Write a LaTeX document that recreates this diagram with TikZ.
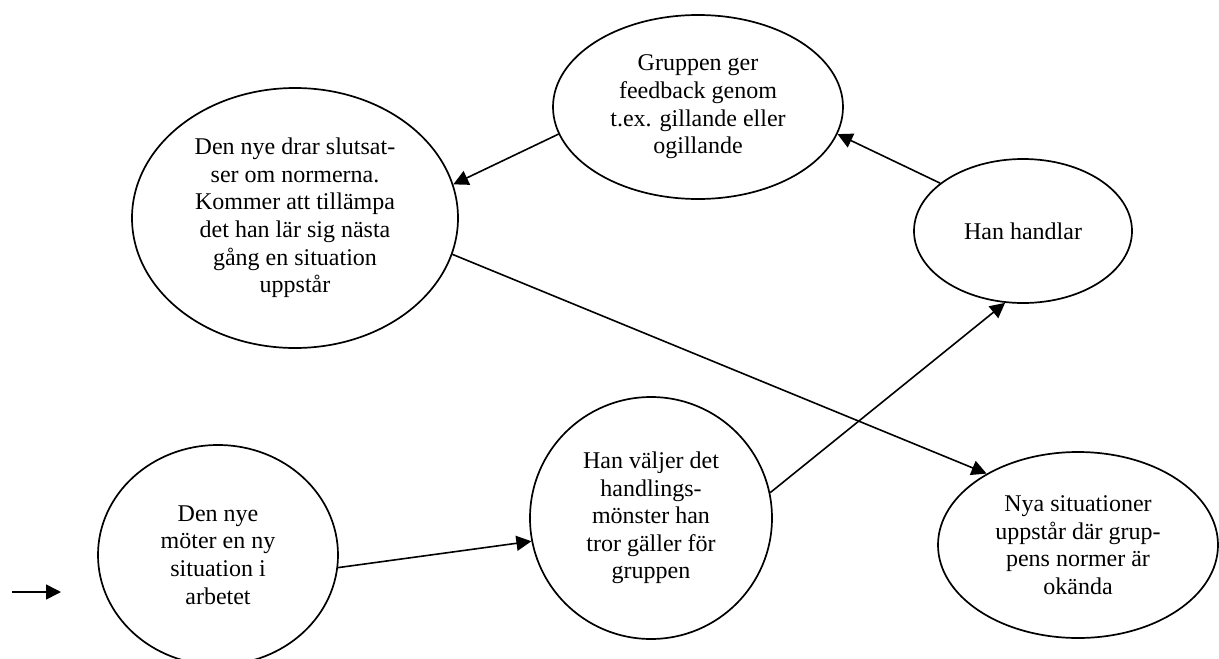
\documentclass[tikz,border=0pt]{standalone}
\usepackage{fontspec}
\setmainfont{Liberation Serif}
\usetikzlibrary{shapes.geometric,arrows.meta}
\begin{document}
\begin{tikzpicture}[x=1pt,y=-1pt,
    bubble/.style={draw, ellipse, line width=1.7pt, inner sep=0pt, align=center,
      font=\fontsize{24}{27.6}\selectfont},
    flow/.style={line width=1.6pt, -{Triangle[length=15pt,width=15pt]}}]
\useasboundingbox (0,0) rectangle (1219,659);
% the cycle
\node[bubble, minimum width=240pt, minimum height=220pt] (mote) at (218,555)
  {Den nye\\möter en ny\\situation i\\arbetet};
\node[bubble, minimum width=242pt, minimum height=242pt] (valjer) at (651,518)
  {Han väljer det\\handlings-\\mönster han\\tror gäller för\\gruppen};
\node[bubble, minimum width=218pt, minimum height=144pt] (handlar) at (1023,231)
  {Han handlar};
\node[bubble, minimum width=290pt, minimum height=184pt] (feedback) at (698,107)
  {Gruppen ger\\feedback genom\\t.ex. gillande eller\\ogillande};
\node[bubble, minimum width=326pt, minimum height=260pt] (slutsats) at (295,218)
  {Den nye drar slutsat-\\ser om normerna.\\Kommer att tillämpa\\det han lär sig nästa\\gång en situation\\uppstår};
\node[bubble, minimum width=280pt, minimum height=186pt] (nya) at (1078,545)
  {Nya situationer\\uppstår där grup-\\pens normer är\\okända};
% entry arrow
\coordinate (in1) at (12,592);
\coordinate (in2) at (61,592);
\draw[flow] (in1) -- (in2);
\draw[flow] (mote.-6) -- (valjer.-169);
\draw[flow] (valjer.12) -- (handlar.256);
\draw[flow] (handlar.150) -- (feedback.-11);
\draw[flow] (feedback.191) -- (slutsats.12);
\draw[flow] (slutsats.-13) -- (nya.142);
\end{tikzpicture}
\end{document}
